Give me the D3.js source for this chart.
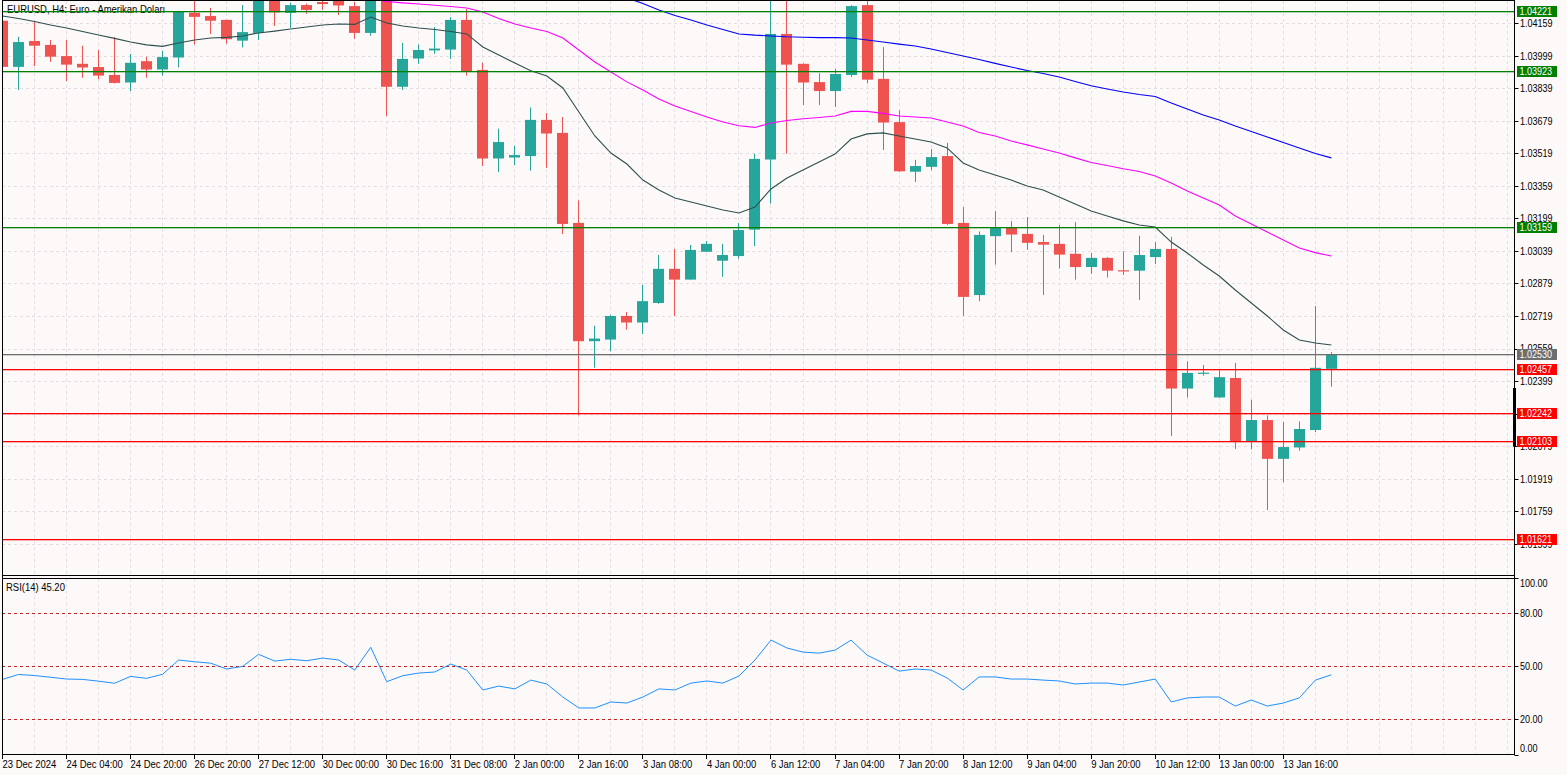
<!DOCTYPE html>
<html><head><meta charset="utf-8">
<script src="https://cdn.jsdelivr.net/npm/d3@7"></script>
<style>
html,body{margin:0;padding:0;background:#fdf9f9;overflow:hidden}
svg{display:block}
text{font-family:"Liberation Sans",Arial,sans-serif;font-size:11px;fill:#000}
</style></head>
<body><svg id="c" width="1567" height="775"></svg>
<script>
// ---------- DATA ----------
const title = "EURUSD, H4:  Euro - Amerikan Doları";
const rsiTitle = "RSI(14) 45.20";
const timeLabels = ["23 Dec 2024","24 Dec 04:00","24 Dec 20:00","26 Dec 20:00","27 Dec 12:00","30 Dec 00:00","30 Dec 16:00","31 Dec 08:00","2 Jan 00:00","2 Jan 16:00","3 Jan 08:00","4 Jan 00:00","6 Jan 12:00","7 Jan 04:00","7 Jan 20:00","8 Jan 12:00","9 Jan 04:00","9 Jan 20:00","10 Jan 12:00","13 Jan 00:00","13 Jan 16:00"];
const barsPerLabel = 4;
const openP = [1.04172,1.03945,1.04072,1.04053,1.03998,1.03960,1.03944,1.03905,1.03868,1.03973,
1.03932,1.03991,1.04211,1.04195,1.04176,1.04074,1.04112,1.04284,1.04211,1.04249,
1.04264,1.04279,1.04244,1.04112,1.04289,1.03847,1.03986,1.04026,1.04030,1.04176,
1.03930,1.03494,1.03499,1.03506,1.03684,1.03620,1.03177,1.02595,1.02603,1.02719,
1.02687,1.02783,1.02951,1.02898,1.03035,1.02991,1.03014,1.03144,1.03489,1.04107,
1.03960,1.03870,1.03826,1.03905,1.04249,1.03886,1.03673,1.03429,1.03453,1.03506,
1.03177,1.02822,1.03112,1.03155,1.03123,1.03083,1.03074,1.03025,1.02960,1.03005,
1.02944,1.02942,1.03009,1.03049,1.02362,1.02437,1.02318,1.02414,1.02102,1.02207,
1.02016,1.02072,1.02158,1.02459];
const highP = [1.04190,1.04093,1.04169,1.04077,1.04077,1.04049,1.04028,1.04091,1.04009,1.03995,
1.04023,1.04221,1.04289,1.04235,1.04178,1.04249,1.04299,1.04294,1.04260,1.04256,
1.04289,1.04289,1.04265,1.04304,1.04299,1.04063,1.04055,1.04141,1.04190,1.04230,
1.03965,1.03641,1.03557,1.03745,1.03718,1.03698,1.03288,1.02671,1.02724,1.02738,
1.02872,1.03019,1.03049,1.03068,1.03088,1.03074,1.03176,1.03517,1.04294,1.04294,
1.03962,1.03914,1.03935,1.04249,1.04268,1.04042,1.03731,1.03487,1.03541,1.03571,
1.03255,1.03135,1.03235,1.03186,1.03206,1.03118,1.03167,1.03181,1.03030,1.03009,
1.03038,1.03114,1.03083,1.03109,1.02496,1.02478,1.02455,1.02488,1.02306,1.02230,
1.02197,1.02200,1.02768,1.02541];
const lowP = [1.03930,1.03831,1.03949,1.03970,1.03875,1.03891,1.03884,1.03863,1.03826,1.03891,
1.03902,1.03942,1.04055,1.04107,1.04059,1.04040,1.04077,1.04146,1.04137,1.04206,
1.04225,1.04200,1.04084,1.04098,1.03703,1.03831,1.03960,1.04009,1.03984,1.03902,
1.03457,1.03427,1.03462,1.03434,1.03448,1.03123,1.02230,1.02464,1.02546,1.02652,
1.02631,1.02779,1.02720,1.02898,1.03035,1.02912,1.03001,1.03063,1.03272,1.03518,
1.03757,1.03757,1.03748,1.03896,1.03863,1.03536,1.03427,1.03378,1.03437,1.03167,
1.02720,1.02792,1.02972,1.03033,1.03044,1.02822,1.02952,1.02898,1.02926,1.02908,
1.02921,1.02798,1.02975,1.02128,1.02318,1.02425,1.02318,1.02065,1.02063,1.01764,
1.01902,1.02056,1.02148,1.02371];
const closeP = [1.03945,1.04067,1.04049,1.03995,1.03956,1.03942,1.03902,1.03866,1.03965,1.03932,
1.03993,1.04215,1.04191,1.04172,1.04081,1.04116,1.04284,1.04213,1.04249,1.04225,
1.04254,1.04247,1.04112,1.04289,1.03847,1.03984,1.04028,1.04035,1.04176,1.03923,
1.03494,1.03575,1.03511,1.03684,1.03617,1.03172,1.02595,1.02608,1.02719,1.02687,
1.02792,1.02951,1.02898,1.03044,1.03074,1.03019,1.03142,1.03492,1.04107,1.03956,
1.03868,1.03826,1.03910,1.04244,1.03882,1.03671,1.03431,1.03457,1.03501,1.03172,
1.02813,1.03118,1.03155,1.03120,1.03079,1.03070,1.03021,1.02960,1.03005,1.02942,
1.02942,1.03019,1.03049,1.02362,1.02439,1.02440,1.02418,1.02102,1.02207,1.02016,
1.02074,1.02163,1.02464,1.02530];
const maFast = [1.04195,1.04183,1.04168,1.04151,1.04136,1.04119,1.04102,1.04085,1.04067,1.04053,
1.04046,1.04062,1.04077,1.04087,1.04090,1.04097,1.04112,1.04121,1.04131,1.04141,
1.04151,1.04156,1.04154,1.04190,1.04161,1.04146,1.04136,1.04129,1.04119,1.04107,
1.04043,1.04003,1.03964,1.03926,1.03900,1.03841,1.03723,1.03605,1.03521,1.03467,
1.03388,1.03339,1.03300,1.03280,1.03260,1.03241,1.03226,1.03255,1.03344,1.03398,
1.03437,1.03477,1.03516,1.03590,1.03615,1.03620,1.03605,1.03590,1.03575,1.03546,
1.03472,1.03437,1.03413,1.03388,1.03359,1.03339,1.03305,1.03270,1.03236,1.03211,
1.03187,1.03167,1.03157,1.03083,1.03029,1.02970,1.02916,1.02847,1.02783,1.02719,
1.02650,1.02601,1.02586,1.02576];
const maFastStart = 0;
const maMid = [1.04294,1.04279,1.04267,1.04260,1.04254,1.04248,1.04242,1.04235,
1.04215,1.04183,1.04156,1.04136,1.04119,1.04087,1.04028,1.03969,1.03920,1.03871,
1.03831,1.03787,1.03752,1.03725,1.03698,1.03674,1.03655,1.03647,1.03669,1.03681,
1.03690,1.03696,1.03703,1.03726,1.03726,1.03716,1.03703,1.03698,1.03693,1.03674,
1.03654,1.03622,1.03605,1.03580,1.03561,1.03541,1.03521,1.03497,1.03474,1.03460,
1.03444,1.03430,1.03408,1.03374,1.03334,1.03300,1.03265,1.03211,1.03172,1.03132,
1.03093,1.03054,1.03031,1.03014];
const maMidStart = 22;
const maSlow = [1.04313,1.04284,1.04257,1.04225,1.04198,1.04176,1.04151,1.04129,1.04107,1.04101,
1.04097,1.04093,1.04091,1.04089,1.04089,1.04087,1.04077,1.04067,1.04057,1.04048,
1.04033,1.04016,1.03998,1.03981,1.03962,1.03944,1.03927,1.03912,1.03895,1.03873,
1.03852,1.03836,1.03821,1.03809,1.03799,1.03767,1.03738,1.03708,1.03684,1.03654,
1.03627,1.03600,1.03573,1.03546,1.03519,1.03497];
const maSlowStart = 38;
const rsiValues = [42.6,45.4,44.8,43.8,42.8,42.6,41.6,40.4,44.3,43.2,
45.5,53.6,52.6,51.8,48.5,50.0,56.8,53.0,54.0,53.2,
54.7,53.6,47.9,60.8,41.3,44.7,46.2,46.8,51.3,47.9,
36.6,38.8,37.2,42.2,40.0,32.6,26.4,26.4,29.8,29.2,
32.6,37.2,36.6,40.5,41.7,40.5,44.5,53.6,64.9,60.4,
58.1,57.5,59.2,64.9,56.4,51.9,47.3,48.5,47.9,43.4,
36.6,44.0,44.0,42.8,42.8,42.2,41.7,40.0,40.5,40.5,
39.4,41.1,42.8,29.8,32.1,32.6,32.6,27.5,30.9,27.5,
29.2,32.1,42.2,45.2];
const priceTicks = [1.04159,1.03999,1.03839,1.03679,1.03519,1.03359,1.03199,1.03039,1.02879,1.02719,1.02559,1.02399,1.02239,1.02079,1.01919,1.01759,1.01599];
const levelValues = [1.04221,1.03923,1.03159,1.02530,1.02457,1.02242,1.02103,1.01621];
const levelColors = ["#008000","#008000","#008000","#6e6e6e","#ff0000","#ff0000","#ff0000","#ff0000"];
const rsiLevels = [80,50,20];
const rsiTicks = [100,80,50,20,0];
const spreadMarker = [1.02365,1.02076];

// ---------- LAYOUT ----------
const L = 2, R = 1514.5, mainTop = 1, mainBot = 575.5, rsiTop = 578.5, rsiBot = 754.5;
const colors = {up:"#26a69a", down:"#ef5350", fast:"#2f4f4f", mid:"#ff00ff", slow:"#0000ff",
  rsi:"#1e90ff", rsiLvl:"#c62020", grid:"#e3dee6"};

const svg = d3.select("#c");
const x = d3.scaleLinear().domain([0, 94.44]).range([2, 1514]);
const y = d3.scaleLinear().domain([1.04274, 1.01442]).range([0, 575.5]);
const r = d3.scaleLinear().domain([0, 100]).range([754.5, 578.2]);

const defs = svg.append("defs");
defs.append("clipPath").attr("id","cm").append("rect").attr("x",L).attr("y",mainTop).attr("width",R-L).attr("height",mainBot-mainTop);
defs.append("clipPath").attr("id","cr").append("rect").attr("x",L).attr("y",rsiTop).attr("width",R-L).attr("height",rsiBot-rsiTop);

// grid
const gridIdx = d3.range(2, 95, 2);
const g = svg.append("g");
g.selectAll(".vg").data(gridIdx).join("line").attr("class","vg")
  .attr("x1", d=>Math.round(x(d))+0.5).attr("x2", d=>Math.round(x(d))+0.5)
  .attr("y1", mainTop).attr("y2", mainBot)
  .style("stroke", colors.grid).attr("stroke-dasharray","3,3");
g.selectAll(".vg2").data(gridIdx).join("line").attr("class","vg2")
  .attr("x1", d=>Math.round(x(d))+0.5).attr("x2", d=>Math.round(x(d))+0.5)
  .attr("y1", rsiTop).attr("y2", rsiBot)
  .style("stroke", colors.grid).attr("stroke-dasharray","3,3");
g.selectAll(".hg").data(priceTicks).join("line").attr("class","hg")
  .attr("x1", L).attr("x2", R)
  .attr("y1", d=>Math.round(y(d))+0.5).attr("y2", d=>Math.round(y(d))+0.5)
  .style("stroke", colors.grid).attr("stroke-dasharray","3,3");

// title
svg.append("text").attr("class","wide").attr("x",7).attr("y",13).text(title);

// candles
const idx = d3.range(openP.length);
const cg = svg.append("g").attr("clip-path","url(#cm)");
const bw = 11;
cg.selectAll(".wick").data(idx).join("line").attr("class","wick")
  .attr("x1", i=>Math.round(x(i))+0.5).attr("x2", i=>Math.round(x(i))+0.5)
  .attr("y1", i=>y(highP[i])).attr("y2", i=>y(lowP[i]))
  .style("stroke", i=> closeP[i]>=openP[i]?colors.up:colors.down).attr("stroke-width",1);
cg.selectAll(".body").data(idx).join("rect").attr("class","body")
  .attr("x", i=>Math.round(x(i))+0.5-bw/2)
  .attr("width", bw)
  .attr("y", i=>y(Math.max(openP[i],closeP[i])))
  .attr("height", i=>Math.max(1.2, Math.abs(y(openP[i])-y(closeP[i]))))
  .style("fill", i=> closeP[i]>=openP[i]?colors.up:colors.down);

// moving averages
function maLine(vals, start, col){
  const pts = vals.map((v,k)=>[start+k, v]);
  cg.append("path").datum(pts)
    .attr("d", d3.line().x(d=>x(d[0])+0.5).y(d=>y(d[1])))
    .style("fill","none").style("stroke",col).attr("stroke-width",1.1);
}
maLine(maFast, maFastStart, colors.fast);
maLine(maMid, maMidStart, colors.mid);
maLine(maSlow, maSlowStart, colors.slow);

// level lines (drawn as thin filled bands)
const lg = svg.append("g");
lg.selectAll(".lvl").data(levelValues).join("rect").attr("class","lvl")
  .attr("x", L).attr("width", R-L)
  .attr("y", d=>Math.round(y(d))).attr("height", 1.3)
  .style("fill", (d,i)=>levelColors[i]);

// RSI
const rg = svg.append("g").attr("clip-path","url(#cr)");
rg.selectAll(".rl").data(rsiLevels).join("line").attr("class","rl")
  .attr("x1", L).attr("x2", R)
  .attr("y1", d=>Math.round(r(d))+0.5).attr("y2", d=>Math.round(r(d))+0.5)
  .style("stroke", colors.rsiLvl).attr("stroke-dasharray","3,3");
rg.append("path").datum(rsiValues)
  .attr("d", d3.line().x((d,i)=>x(i)+0.5).y(d=>r(d)))
  .style("fill","none").style("stroke",colors.rsi).attr("stroke-width",1);
svg.append("text").attr("class","wide").attr("x",6).attr("y",591).text(rsiTitle);

// frames
const fr = svg.append("g").attr("shape-rendering","crispEdges");
function frame(x1,x2,y1,y2){ fr.append("line").attr("x1",x1).attr("x2",x2).attr("y1",y1).attr("y2",y2).style("stroke","#000"); }
frame(2.5,2.5,0,755);
frame(R,R,0,755);
frame(2,R,0.5,0.5);
frame(2,R,mainBot,mainBot);
frame(2,R,rsiTop,rsiTop);
frame(2,R,rsiBot,rsiBot);

// price axis
const ax = svg.append("g");
ax.selectAll(".pt").data(priceTicks).join("line").attr("class","pt")
  .attr("x1",R).attr("x2",R+4)
  .attr("y1", d=>Math.round(y(d))+0.5).attr("y2", d=>Math.round(y(d))+0.5)
  .style("stroke","#000");
ax.selectAll(".ptl").data(priceTicks).join("text").attr("class","ptl")
  .attr("x",1520).attr("y", d=>y(d)).attr("dy","0.36em")
  .text(d=>d.toFixed(5));

// spread marker on axis
svg.append("rect").attr("x",R-1.5).attr("width",3)
  .attr("y", y(spreadMarker[0])).attr("height", y(spreadMarker[1])-y(spreadMarker[0]))
  .style("fill","#000");

// level labels
const lb = svg.append("g");
levelValues.forEach((v,i)=>{
  const yy = Math.round(y(v))+0.5;
  lb.append("rect").attr("x",1517).attr("y",yy-5.5).attr("width",40).attr("height",11)
    .style("fill", levelColors[i]);
  lb.append("text").attr("x",1519.5).attr("y",yy).attr("dy","0.36em")
    .style("fill","#fff").text(v.toFixed(5));
});

// RSI axis
const ra = svg.append("g");
ra.selectAll(".rt").data(rsiTicks).join("line").attr("class","rt")
  .attr("x1",R).attr("x2",R+4)
  .attr("y1", d=>Math.round(r(d))+0.5).attr("y2", d=>Math.round(r(d))+0.5)
  .style("stroke","#000");
ra.selectAll(".rtl").data(rsiTicks).join("text").attr("class","rtl")
  .attr("x",1520).attr("y", d=> r(d) + (d===100?5:(d===0?-6:0))).attr("dy","0.36em")
  .text(d=>d.toFixed(2));

// time axis
const ta = svg.append("g");
ta.selectAll(".tt").data(timeLabels).join("line").attr("class","tt")
  .attr("x1",(d,i)=>Math.round(x(i*barsPerLabel))+0.5).attr("x2",(d,i)=>Math.round(x(i*barsPerLabel))+0.5)
  .attr("y1",755).attr("y2",759).style("stroke","#000");
ta.selectAll(".ttl").data(timeLabels).join("text").attr("class","ttl wide")
  .attr("x",(d,i)=>x(i*barsPerLabel)+0.5).attr("y",768).text(d=>d);

// condense all text to a narrow face (MT5 uses a narrow bitmap-like font)
svg.selectAll("text").each(function(){
  const w = this.getComputedTextLength();
  const f = this.classList.contains("wide") ? 0.86 : 0.82;
  d3.select(this).attr("textLength", (w*f).toFixed(1)).attr("lengthAdjust","spacingAndGlyphs");
});
</script></body></html>
